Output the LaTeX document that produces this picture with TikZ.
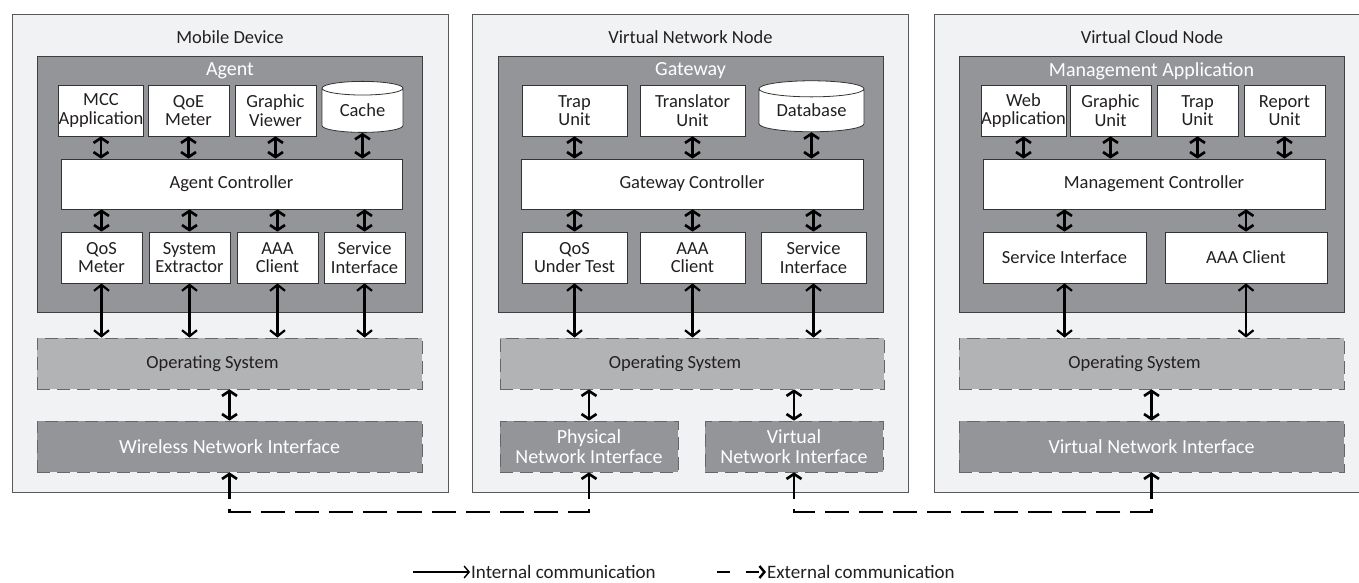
\documentclass[tikz,border=0pt]{standalone}
\usepackage{fontspec}
\setmainfont{Carlito}
\usetikzlibrary{arrows.meta,shapes.geometric}
\definecolor{panelgray}{RGB}{241,242,244}
\definecolor{blockgray}{RGB}{147,149,152}
\definecolor{osgray}{RGB}{178,179,181}
\definecolor{ink}{RGB}{35,31,32}
\begin{document}
\begin{tikzpicture}[x=1pt, y=-1pt, font=\fontsize{18.5}{18.5}\selectfont, text=ink,
    panel/.style={draw=black!65, fill=panelgray, line width=0.8pt, inner sep=0pt, minimum width=436pt, minimum height=478pt},
    blockbox/.style={draw=black!75, fill=blockgray, line width=0.8pt, inner sep=0pt, minimum width=385pt, minimum height=256pt},
    unit/.style={draw=black!80, fill=white, line width=0.8pt, inner sep=0pt, align=center, minimum width=81pt, minimum height=51pt},
    ctrl/.style={unit, minimum width=342pt, minimum height=50pt},
    db/.style={cylinder, shape border rotate=90, aspect=0.3, draw=black!80, fill=white, line width=0.8pt, inner sep=0pt, minimum height=51pt},
    osbox/.style={draw=black!60, fill=osgray, line width=0.8pt, dash pattern=on 13pt off 7pt, inner sep=0pt, minimum width=385pt, minimum height=51pt},
    netbox/.style={osbox, fill=blockgray, text=white, align=center, font=\fontsize{20}{20}\selectfont},
    title/.style={inner sep=1pt},
    wtitle/.style={title, text=white, font=\fontsize{20}{20}\selectfont},
    iarr/.style={line width=2.6pt, {Straight Barb[length=5pt,width=15pt]}-{Straight Barb[length=5pt,width=15pt]}},
    larr/.style={line width=2.2pt, {Straight Barb[length=6pt,width=15pt]}-{Straight Barb[length=6pt,width=15pt]}},
    earr/.style={line width=2.6pt, dash pattern=on 24pt off 10pt, {Straight Barb[length=5pt,width=15pt]}-}]
  \useasboundingbox (0,0) rectangle (1359,583);

  % mobile device
  \node[panel] (mob) at (230,253) {};
  \node[title] (mobt) at (230,37) {Mobile Device};
  \node[blockbox] (agent) at (229.5,184) {};
  \node[wtitle] (agentt) at (230,71) {Agent};
  \node[unit] (mcc) at (101,110.5) {MCC\\Application};
  \node[unit] (qoe) at (188.5,110.5) {QoE\\Meter};
  \node[unit] (viewer) at (275.5,110.5) {Graphic\\Viewer};
  \node[db, minimum width=81pt] (cache) at (362.5,110.5) {Cache};
  \node[ctrl, minimum width=341pt] (actrl) at (231.5,184) {Agent Controller};
  \node[unit] (qosm) at (101.5,257.5) {QoS\\Meter};
  \node[unit] (sysext) at (189.5,257.5) {System\\Extractor};
  \node[unit] (aaa1) at (277.5,257.5) {AAA\\Client};
  \node[unit] (serv1) at (364.5,257.5) {Service\\Interface};
  \node[osbox] (os1) at (229.5,363.5) {Operating System\hspace*{34pt}};
  \node[netbox] (wni) at (229.5,446.5) {Wireless Network Interface};

  % virtual network node
  \node[panel] (vnn) at (690.5,253) {};
  \node[title] (vnnt) at (690.5,37) {Virtual Network Node};
  \node[blockbox] (gw) at (690.5,184) {};
  \node[wtitle] (gwt) at (690.5,71) {Gateway};
  \node[unit, minimum width=105pt] (trap1) at (574.5,110.5) {Trap\\Unit};
  \node[unit, minimum width=105pt] (transl) at (692.5,110.5) {Translator\\Unit};
  \node[db, minimum width=105pt, aspect=0.23] (database) at (811.5,110.5) {Database};
  \node[ctrl] (gctrl) at (692,184) {Gateway Controller};
  \node[unit, minimum width=105pt] (qosut) at (574.5,257.5) {QoS\\Under Test};
  \node[unit, minimum width=105pt] (aaa2) at (692.5,257.5) {AAA\\Client};
  \node[unit, minimum width=105pt] (serv2) at (813.5,257.5) {Service\\Interface};
  \node[osbox, minimum width=384pt] (os2) at (692,363.5) {Operating System\hspace*{34pt}};
  \node[netbox, minimum width=178pt] (phys) at (589,446.5) {Physical\\Network Interface};
  \node[netbox, minimum width=178pt] (virt2) at (794,446.5) {Virtual\\Network Interface};

  % virtual cloud node
  \node[panel] (vcn) at (1152,253) {};
  \node[title] (vcnt) at (1152,37) {Virtual Cloud Node};
  \node[blockbox] (mgmt) at (1151.5,184) {};
  \node[wtitle] (mgmtt) at (1151.5,71) {Management Application};
  \node[unit] (web) at (1023.5,110.5) {Web\\Application};
  \node[unit] (gunit) at (1110.5,110.5) {Graphic\\Unit};
  \node[unit] (trap2) at (1197.5,110.5) {Trap\\Unit};
  \node[unit] (report) at (1284.5,110.5) {Report\\Unit};
  \node[ctrl] (mctrl) at (1154,184) {Management Controller};
  \node[unit, minimum width=163pt] (serv3) at (1064.5,257.5) {Service Interface};
  \node[unit, minimum width=162pt] (aaa3) at (1246,257.5) {AAA Client};
  \node[osbox] (os3) at (1151.5,363.5) {Operating System\hspace*{34pt}};
  \node[netbox] (virt3) at (1151.5,446.5) {Virtual Network Interface};

  \foreach \a/\b in {mcc/actrl, qoe/actrl, viewer/actrl, cache/actrl, trap1/gctrl, transl/gctrl, database/gctrl,
      web/mctrl, gunit/mctrl, trap2/mctrl, report/mctrl}
    \draw[iarr] (\a.south) -- (\a.south |- \b.north);
  \foreach \a/\b in {qosm/actrl, sysext/actrl, aaa1/actrl, serv1/actrl, qosut/gctrl, aaa2/gctrl, serv2/gctrl,
      serv3/mctrl, aaa3/mctrl}
    \draw[iarr] (\b.south -| \a.north) -- (\a.north);
  \foreach \a/\b in {qosm/os1, sysext/os1, aaa1/os1, serv1/os1, qosut/os2, aaa2/os2, serv2/os2, serv3/os3, aaa3/os3}
    \draw[larr] (\a.south) -- (\a.south |- \b.north);
  \foreach \a/\b in {os1/wni, os2/phys, os2/virt2, os3/virt3}
    \draw[iarr] (\a.south -| \b.north) -- (\b.north);

  % external links, drawn from each interface to the middle
  \coordinate (ext1) at (409.5,512);
  \coordinate (ext2) at (973,512);
  \foreach \n/\c in {wni/ext1, phys/ext1, virt2/ext2, virt3/ext2}
    \draw[earr] (\n.south) |- (\c);

  % legend
  \coordinate (intl) at (413,572);
  \node[title, anchor=west, font=\fontsize{19}{19}\selectfont] (intlbl) at (470,572) {Internal communication};
  \draw[line width=1.4pt, -{Straight Barb[length=5pt,width=12pt]}] (intl) -- (intlbl.west);
  \coordinate (extl) at (717,572);
  \node[title, anchor=west, font=\fontsize{19}{19}\selectfont] (extlbl) at (766,572) {External communication};
  \draw[line width=2.4pt, dash pattern=on 13pt off 16pt, -{Straight Barb[length=5pt,width=12pt]}] (extl) -- (extlbl.west);
\end{tikzpicture}
\end{document}
